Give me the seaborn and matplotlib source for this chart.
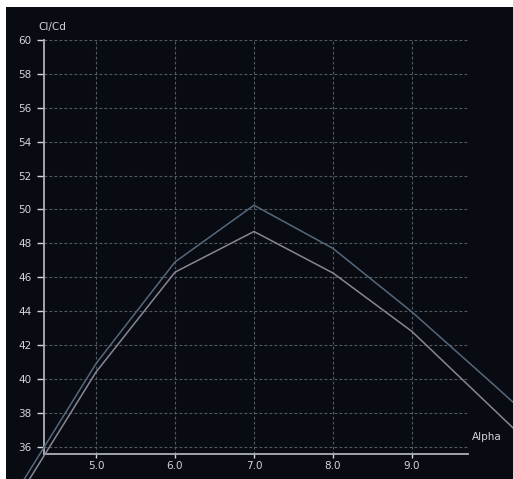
import pandas as pd
import matplotlib
matplotlib.use("Agg")
import matplotlib.pyplot as plt
import matplotlib.patches as patches
import seaborn as sns

# Cl/Cd polar (two runs)
alpha = [4.0, 5.0, 6.0, 7.0, 8.0, 9.0, 10.0, 11.0]
run_a = [33.4, 40.9, 46.9, 50.25, 47.7, 43.95, 39.8, 35.6]
run_b = [32.9, 40.4, 46.3, 48.7, 46.25, 42.8, 38.35, 33.9]
x_ticks = [5.0, 6.0, 7.0, 8.0, 9.0]
y_ticks = list(range(36, 61, 2))

df = pd.DataFrame({
    'Alpha': alpha * 2,
    'ClCd': run_a + run_b,
    'run': ['a'] * len(alpha) + ['b'] * len(alpha),
})

bg = '#080c12'
fg = '#d2d5d9'

sns.set_style('dark')
plt.rcParams['font.family'] = ['DejaVu Sans']

fig = plt.figure(figsize=(5.13, 4.79), dpi=100)
fig.patch.set_facecolor('white')
# dark panel (small white margin top/left as in the screenshot)
fig.patches.append(patches.Rectangle((6 / 513, 0), 1, 1 - 7 / 479, transform=fig.transFigure,
                                     facecolor=bg, edgecolor='none', zorder=-5))

ax = fig.add_axes([44 / 513, 1 - 454 / 479, 424 / 513, 414 / 479])
ax.set_facecolor('none')

sns.lineplot(data=df, x='Alpha', y='ClCd', hue='run', palette=['#56687c', '#8a8594'],
             linewidth=1.1, legend=False, ax=ax, clip_on=False, zorder=3)

ax.set_xlim(4.342, 9.709)
ax.set_ylim(35.57, 60)
ax.set_xticks(x_ticks)
ax.set_xticklabels([f'{t:.1f}' for t in x_ticks])
ax.set_yticks(y_ticks)
ax.set_xlabel('')
ax.set_ylabel('')

ax.grid(True, color='#545a62', linestyle=(0, (2.5, 2)), linewidth=0.8)
for s in ['top', 'right']:
    ax.spines[s].set_visible(False)
for s in ['left', 'bottom']:
    ax.spines[s].set_visible(True)
    ax.spines[s].set_color('#aeb2b8')
    ax.spines[s].set_linewidth(1.3)

ax.tick_params(axis='y', colors=fg, labelsize=7.5, length=5, width=1, pad=4, left=True)
ax.tick_params(axis='x', colors=fg, labelsize=7.5, length=3, width=1, pad=2, bottom=True)

fig.text(38 / 513, 1 - 27 / 479, 'Cl/Cd', color=fg, fontsize=7.5, ha='left', va='center')
fig.text(472 / 513, 1 - 437 / 479, 'Alpha', color=fg, fontsize=7.5, ha='left', va='center')

fig.savefig('out.png', dpi=100, facecolor=fig.get_facecolor())
